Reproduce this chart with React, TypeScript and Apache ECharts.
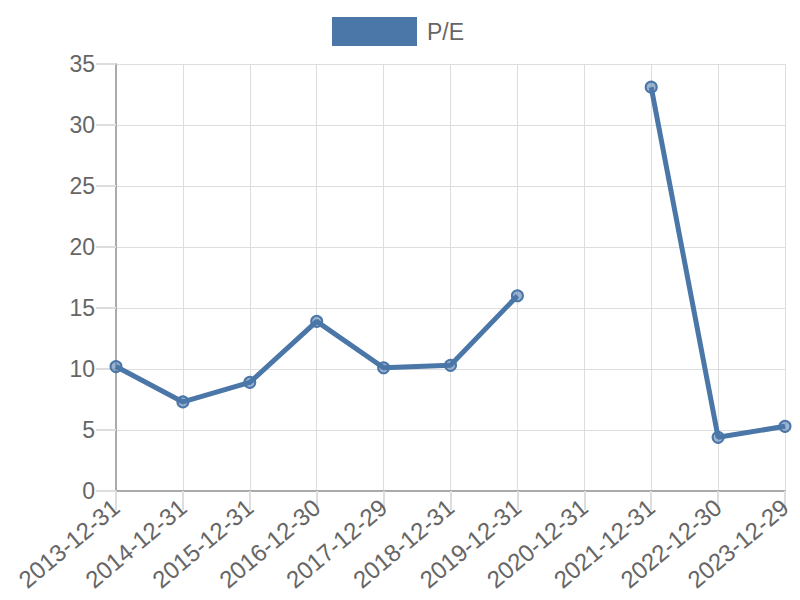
import React, { useEffect, useRef } from "react";
import * as echarts from "echarts";

const categories = [
  "2013-12-31", "2014-12-31", "2015-12-31", "2016-12-30", "2017-12-29",
  "2018-12-31", "2019-12-31", "2020-12-31", "2021-12-31", "2022-12-30", "2023-12-29",
];
const peValues: (number | null)[] = [10.2, 7.3, 8.9, 13.9, 10.1, 10.3, 16.0, null, 33.1, 4.4, 5.3];
const seriesName = "P/E";

const LINE = "#4a76a8";
const FONT = "Liberation Sans, Arial, sans-serif";

export default function App() {
  const ref = useRef<HTMLDivElement>(null);
  useEffect(() => {
    if (!ref.current) return;
    const chart = echarts.init(ref.current, undefined, { renderer: "svg" });
    chart.setOption({
      animation: false,
      textStyle: { fontFamily: FONT },
      legend: {
        top: 12,
        left: 327,
        icon: "rect",
        itemWidth: 85,
        itemHeight: 29,
        itemStyle: { color: LINE, borderWidth: 0 },
        textStyle: { fontSize: 23, color: "#666", fontFamily: FONT, padding: [0, 0, 0, 5] },
        data: [seriesName],
      },
      grid: { left: 116, right: 15, top: 64, bottom: 109, containLabel: false },
      xAxis: {
        type: "category",
        data: categories,
        boundaryGap: false,
        axisLine: { show: true, lineStyle: { color: "#aaa", width: 2 } },
        axisTick: { show: true, length: 19, lineStyle: { color: "#ddd", width: 2 } },
        splitLine: { show: true, lineStyle: { color: "#dedede", width: 1 } },
        axisLabel: {
          rotate: 40,
          fontSize: 24,
          color: "#666",
          fontFamily: FONT,
          margin: 13,
          interval: 0,
        },
      },
      yAxis: {
        type: "value",
        min: 0,
        max: 35,
        interval: 5,
        axisLine: { show: true, lineStyle: { color: "#aaa", width: 2 } },
        axisTick: { show: true, length: 20, lineStyle: { color: "#ddd", width: 2 } },
        splitLine: { show: true, lineStyle: { color: "#dedede", width: 1 } },
        axisLabel: { fontSize: 23, color: "#666", fontFamily: FONT, margin: 21 },
      },
      series: [
        {
          name: seriesName,
          type: "line",
          data: peValues,
          connectNulls: false,
          symbol: "circle",
          symbolSize: 11,
          lineStyle: { color: LINE, width: 5 },
          itemStyle: { color: "rgba(74,118,168,0.55)", borderColor: LINE, borderWidth: 2 },
          color: LINE,
        },
      ],
    });
    return () => chart.dispose();
  }, []);
  return <div ref={ref} style={{ width: 800, height: 600, position: "absolute", left: 0, top: 0 }} />;
}
